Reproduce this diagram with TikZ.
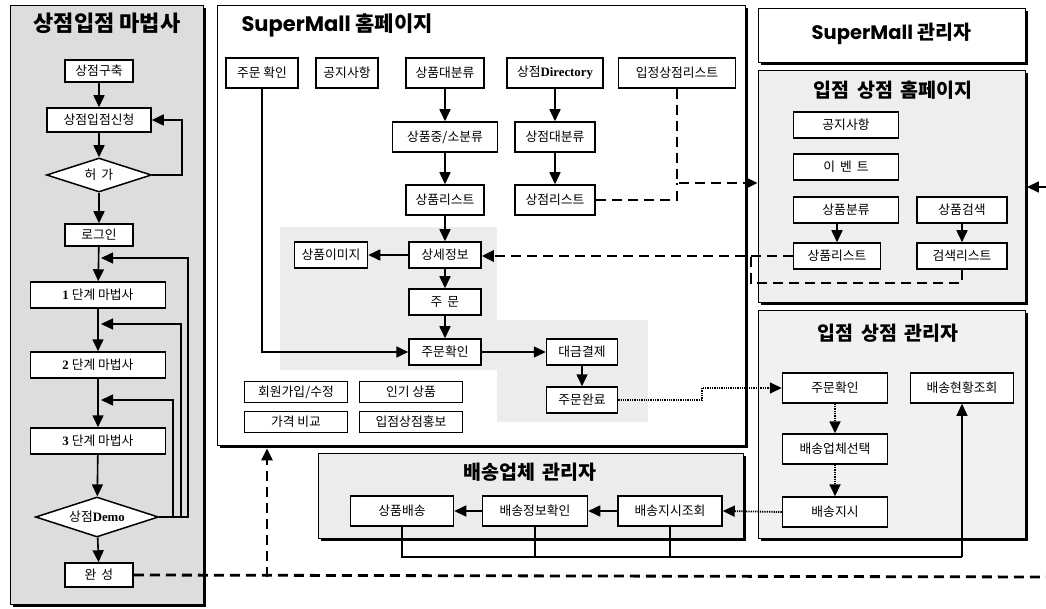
\documentclass[tikz,border=0pt]{standalone}
\usepackage{fontspec}
\setmainfont{Noto Sans CJK KR}
\newfontfamily\popfont{Poppins}
\newfontfamily\serfont{Liberation Serif}
\usetikzlibrary{shapes.geometric,arrows.meta,calc}
\begin{document}
\begin{tikzpicture}[x=1pt,y=-1pt,
  tri/.style={-{Triangle[length=12pt,width=11pt]}},
  con/.style={line width=1.6pt},
  fbline/.style={line width=1.3pt},
  box/.style={draw, line width=1.5pt, fill=white, inner sep=0pt, minimum height=26, font=\fontsize{12.8}{14}\selectfont},
  dia/.style={draw, line width=1.5pt, fill=white, shape=diamond, aspect=3, inner sep=0pt, font=\fontsize{12.8}{14}\selectfont},
  panel/.style={draw, line width=0.9pt, inner sep=0pt},
  shadowline/.style={line width=3.2pt},
  ttl/.style={font=\fontsize{19.5}{21}\selectfont\bfseries},
  dashline/.style={line width=2.8pt, dash pattern=on 10pt off 6pt},
  dotline/.style={line width=1.8pt, dash pattern=on 1.3pt off 1pt},
]
\useasboundingbox (0,0) rectangle (1046,609);
\fill[white] (0,0) rectangle (1046,609);

% ---------- panels ----------
\node[panel, fill=gray!27, minimum width=193, minimum height=599] (P0) at (106.5,304.5) {};
\node[panel, fill=white, minimum width=528, minimum height=440] (H) at (481,225) {};
\node[panel, fill=white, minimum width=267, minimum height=54] (P1) at (891.5,35) {};
\node[panel, fill=gray!13, minimum width=267, minimum height=232] (P2) at (891.5,186) {};
\node[panel, fill=gray!11, minimum width=267, minimum height=228] (P3) at (891.5,424) {};
\node[panel, fill=gray!15, minimum width=425, minimum height=85] (P4) at (530.5,495.5) {};
\foreach \p in {P0,H,P1,P2,P3,P4}{
  \draw[shadowline] ($(\p.south west)+(3,1.2)$) -- ($(\p.south east)+(1.2,1.2)$) -- ($(\p.north east)+(1.2,3)$);
}

% gray area inside the homepage
\fill[gray!15] (280,227) rectangle (497,370);
\fill[gray!15] (497,320) rectangle (648,422);

% ---------- titles ----------
\node[font=\fontsize{22}{24}\selectfont\bfseries] (t0) at (107,23) {상점입점 마법사};
\node[font=\fontsize{21}{23}\selectfont\bfseries, anchor=west] (t1) at (238,25) {{\popfont\bfseries SuperMall} 홈페이지};
\node[ttl] (t2) at (891.5,34) {{\popfont\bfseries SuperMall} 관리자};
\node[ttl] (t3) at (893,90) {입점\, 상점\, 홈페이지};
\node[ttl] (t4) at (888,333) {입점\, 상점\, 관리자};
\node[ttl] (t5) at (530,472) {배송업체\, 관리자};

% ---------- left column ----------
\node[box, minimum width=68, minimum height=22] (n1) at (99,71) {상점구축};
\node[box, minimum width=104, minimum height=24] (n2) at (99,120) {상점입점신청};
\node[dia, minimum width=105, minimum height=34] (d1) at (99,175) {허\, 가};
\node[box, minimum width=68, minimum height=22] (n3) at (99,235) {로그인};
\node[box, minimum width=135, minimum height=26] (n4) at (98,295) {{\serfont\bfseries 1} 단계 마법사};
\node[box, minimum width=135, minimum height=26] (n5) at (98,365) {{\serfont\bfseries 2} 단계 마법사};
\node[box, minimum width=135, minimum height=26] (n6) at (98,441) {{\serfont\bfseries 3} 단계 마법사};
\node[dia, minimum width=123, minimum height=40] (d2) at (97,517) {상점{\serfont\bfseries Demo}};
\node[box, minimum width=68, minimum height=24] (n7) at (99,575) {완\, 성};

\draw[con,tri] (n1) -- (n2);
\draw[con,tri] (n2) -- (d1);
\draw[con,tri] (d1) -- (n3);
\draw[con,tri] (n3) -- (n4);
\draw[con,tri] (n4) -- (n5);
\draw[con,tri] (n5) -- (n6);
\draw[con,tri] (n6) -- (d2);
\draw[con,tri] (d2) -- (n7);
\draw[con,tri] (d1.east) -- (182,175) -- (182,120) -- (n2.east);
\coordinate (f1) at (101,258);
\coordinate (f2) at (101,324);
\coordinate (f3) at (101,400);
\draw[fbline,tri] (d2.east) -- (188,517) -- (188,258) -- (f1);
\draw[fbline,tri] (d2.east) -- (181,517) -- (181,324) -- (f2);
\draw[fbline,tri] (d2.east) -- (173,517) -- (173,400) -- (f3);

% ---------- homepage ----------
\node[box, minimum width=72, minimum height=30] (h1) at (262,73) {주문 확인};
\node[box, minimum width=62, minimum height=30] (h2) at (347,73) {공지사항};
\node[box, minimum width=78, minimum height=30] (h3) at (445,73) {상품대분류};
\node[box, minimum width=96, minimum height=30] (h4) at (555,73) {상점{\serfont\bfseries Directory}};
\node[box, minimum width=117, minimum height=30] (h5) at (677,73) {입정상점리스트};
\node[box, minimum width=105, minimum height=30] (h6) at (445,137) {상품중/소분류};
\node[box, minimum width=80, minimum height=30] (h7) at (555,137) {상점대분류};
\node[box, minimum width=78, minimum height=30] (h8) at (445,200) {상품리스트};
\node[box, minimum width=80, minimum height=30] (h9) at (555,200) {상점리스트};
\node[box, minimum width=73] (h10) at (331,255) {상품이미지};
\node[box, minimum width=72] (h11) at (445,255) {상세정보};
\node[box, minimum width=72] (h12) at (445,302) {주\, 문};
\node[box, minimum width=72] (h13) at (445,352) {주문확인};
\node[box, minimum width=71] (h14) at (582,352) {대금결제};
\node[box, minimum width=71] (h15) at (582,400) {주문완료};
\node[box, minimum width=103, minimum height=21] (h16) at (296,392) {회원가입/수정};
\node[box, minimum width=103, minimum height=21] (h17) at (411,392) {인기 상품};
\node[box, minimum width=103, minimum height=21] (h18) at (296,422) {가격 비교};
\node[box, minimum width=103, minimum height=21] (h19) at (411,422) {입점상점홍보};

\draw[con,tri] (h3) -- (h6);
\draw[con,tri] (h6) -- (h8);
\draw[con,tri] (h8) -- (h11);
\draw[con,tri] (h4) -- (h7);
\draw[con,tri] (h7) -- (h9);
\draw[con,tri] (h11) -- (h10);
\draw[con,tri] (h11) -- (h12);
\draw[con,tri] (h12) -- (h13);
\draw[con,tri] (h1.south) |- (h13.west);
\draw[con,tri] (h13) -- (h14);
\draw[con,tri] (h14) -- (h15);

% ---------- 입점 상점 홈페이지 ----------
\node[box, minimum width=105] (i1) at (846,125) {공지사항};
\node[box, minimum width=105] (i2) at (846,167) {이\, 벤\, 트};
\node[box, minimum width=105] (i3) at (846,210) {상품분류};
\node[box, minimum width=90] (i4) at (962,210) {상품검색};
\node[box, minimum width=87] (i5) at (837,256) {상품리스트};
\node[box, minimum width=90] (i6) at (962,256) {검색리스트};
\draw[con,tri] (i5.north |- i3.south) -- (i5.north);
\draw[con,tri] (i4) -- (i6);

% ---------- 입점 상점 관리자 ----------
\node[box, minimum width=105, minimum height=30] (j1) at (835,388) {주문확인};
\node[box, minimum width=103, minimum height=30] (j2) at (962,388) {배송현황조회};
\node[box, minimum width=105, minimum height=30] (j3) at (835,449) {배송업체선택};
\node[box, minimum width=105, minimum height=30] (j4) at (835,512) {배송지시};
\draw[dotline,tri] (j1) -- (j3);
\draw[dotline,tri] (j3) -- (j4);

% ---------- 배송업체 관리자 ----------
\node[box, minimum width=103, minimum height=30] (k1) at (402,511) {상품배송};
\node[box, minimum width=105, minimum height=30] (k2) at (535,511) {배송정보확인};
\node[box, minimum width=104, minimum height=30] (k3) at (670,511) {배송지시조회};
\draw[con,tri] (k3) -- (k2);
\draw[con,tri] (k2) -- (k1);
\draw[dotline,tri] (j4.west) -- (k3.east);

% bottom solid connector
\coordinate (bl) at (402,557);
\draw[line width=1.1pt] (k1.south) -- (bl) -- (bl -| j2.south);
\draw[line width=1.1pt] (k2.south) -- (k2.south |- bl);
\draw[line width=1.1pt] (k3.south) -- (k3.south |- bl);
\draw[line width=1.1pt,tri] (bl -| j2.south) -- (j2.south);

% order completed -> store manager
\coordinate (oc1) at (702,400);
\coordinate (oc2) at (702,388);
\draw[dotline,tri] (h15.east) -- (oc1) -- (oc2) -- (j1.west);

% dashed: store lists -> store homepage
\coordinate (sl1) at (677,183);
\coordinate (sl2) at (677,200);
\draw[dashline,tri] (h5.south) -- (sl1) -- (sl1 -| P2.west);
\draw[dashline] (h9.east) -- (sl2) -- (sl1);

% dashed: store product list / search list -> detail info
\coordinate (sr1) at (962,283);
\coordinate (sr2) at (751,283);
\coordinate (sr3) at (751,256);
\draw[dashline,tri] (i5.west) -- (i5.west -| h11.east);
\draw[dashline] (i6.south) -- (sr1) -- (sr2) -- (sr3);

% dashed: 완성 -> homepage, and on to the right
\coordinate (be) at (1046,577);
\coordinate (bj) at (267,577);
\draw[dashline] (n7.east) -- (be);
\draw[dashline,tri] (bj) -- ($(bj |- H.south)+(0,3)$);
\coordinate (re) at (1046,187);
\draw[con,tri] (re) -- ($(re -| P2.east)+(1.5,0)$);
\end{tikzpicture}
\end{document}
